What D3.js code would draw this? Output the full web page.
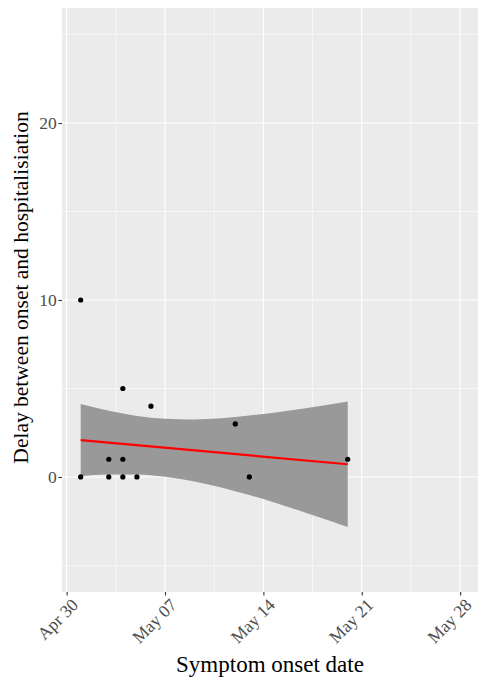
<!DOCTYPE html>
<html><head><meta charset="utf-8">
<script src="https://cdn.jsdelivr.net/npm/d3@7"></script>
<style>body{margin:0;background:#fff;} svg{display:block;}</style>
</head><body>
<script>
// Observed cases: symptom onset date and delay (days)
const onsetDates = ["2020-05-01","2020-05-01","2020-05-03","2020-05-03","2020-05-04","2020-05-04","2020-05-04","2020-05-05","2020-05-06","2020-05-12","2020-05-13","2020-05-20"];
const delays     = [10, 0, 1, 0, 5, 1, 0, 0, 4, 3, 0, 1];
// Linear fit line
const fitDates   = ["2020-05-01","2020-05-20"];
const fitValues  = [2.08, 0.72];
// Confidence band
const bandDates  = ["2020-05-01","2020-05-03","2020-05-05","2020-05-07","2020-05-09","2020-05-11","2020-05-13","2020-05-15","2020-05-17","2020-05-20"];
const bandLower  = [0.04, 0.14, 0.14, 0.01, -0.24, -0.59, -1.02, -1.50, -2.02, -2.83];
const bandUpper  = [4.12, 3.74, 3.45, 3.29, 3.25, 3.32, 3.47, 3.66, 3.89, 4.27];
// Axis ticks
const xTickDates  = ["2020-04-30","2020-05-07","2020-05-14","2020-05-21","2020-05-28"];
const xTickLabels = ["Apr 30","May 07","May 14","May 21","May 28"];
const xMinorDates = ["2020-05-03T12:00","2020-05-10T12:00","2020-05-17T12:00","2020-05-24T12:00"];
const yTicks      = [0, 10, 20];
const yMinor      = [-5, 5, 15, 25];

const W = 479, H = 680;
const panel = {left: 62, right: 478, top: 8, bottom: 592};
const parse = s => new Date(s + (s.length > 10 ? ":00Z" : "T00:00:00Z"));
const DAY = 86400000;
const x0 = parse("2020-04-30");
const x = d3.scaleUtc()
  .domain([new Date(+x0 - 0.33*DAY), new Date(+x0 + 29.27*DAY)])
  .range([panel.left, panel.right]);
const y = d3.scaleLinear().domain([-6.5, 26.5]).range([panel.bottom, panel.top]);

const svg = d3.select("body").append("svg").attr("width", W).attr("height", H);
svg.append("rect").attr("x", panel.left).attr("y", panel.top)
  .attr("width", panel.right - panel.left).attr("height", panel.bottom - panel.top)
  .attr("fill", "#EBEBEB");

const g = svg.append("g");
// minor grid
g.selectAll(".ymin").data(yMinor).join("line")
  .attr("x1", panel.left).attr("x2", panel.right)
  .attr("y1", d => y(d)).attr("y2", d => y(d))
  .attr("stroke", "#fff").attr("stroke-width", 0.55);
g.selectAll(".xmin").data(xMinorDates).join("line")
  .attr("y1", panel.top).attr("y2", panel.bottom)
  .attr("x1", d => x(parse(d))).attr("x2", d => x(parse(d)))
  .attr("stroke", "#fff").attr("stroke-width", 0.55);
// major grid
g.selectAll(".ymaj").data(yTicks).join("line")
  .attr("x1", panel.left).attr("x2", panel.right)
  .attr("y1", d => y(d)).attr("y2", d => y(d))
  .attr("stroke", "#fff").attr("stroke-width", 1.1);
g.selectAll(".xmaj").data(xTickDates).join("line")
  .attr("y1", panel.top).attr("y2", panel.bottom)
  .attr("x1", d => x(parse(d))).attr("x2", d => x(parse(d)))
  .attr("stroke", "#fff").attr("stroke-width", 1.1);

// band
const band = bandDates.map((d, i) => ({d: parse(d), lo: bandLower[i], hi: bandUpper[i]}));
svg.append("path").datum(band)
  .attr("d", d3.area().x(d => x(d.d)).y0(d => y(d.lo)).y1(d => y(d.hi)).curve(d3.curveMonotoneX))
  .attr("fill", "#999999");

// points
const pts = onsetDates.map((d, i) => ({d: parse(d), v: delays[i]}));
svg.selectAll(".pt").data(pts).join("circle")
  .attr("cx", d => x(d.d)).attr("cy", d => y(d.v)).attr("r", 2.6).attr("fill", "#000");

// fit line
const fit = fitDates.map((d, i) => ({d: parse(d), v: fitValues[i]}));
svg.append("path").datum(fit)
  .attr("d", d3.line().x(d => x(d.d)).y(d => y(d.v)))
  .attr("fill", "none").attr("stroke", "#FF0000").attr("stroke-width", 2.2);

// axes
const font = "'Liberation Serif','Times New Roman',serif";
const xAxis = svg.append("g").attr("transform", `translate(0,${panel.bottom})`)
  .call(d3.axisBottom(x).tickValues(xTickDates.map(parse)).tickSize(3.5)
    .tickFormat((d, i) => xTickLabels[i]));
xAxis.select(".domain").remove();
xAxis.selectAll(".tick line").attr("stroke", "#333").attr("stroke-width", 1.1);
xAxis.selectAll(".tick text")
  .attr("font-family", font).attr("font-size", 17.5).attr("fill", "#4D4D4D")
  .attr("text-anchor", "end").attr("x", 0).attr("y", 0).attr("dy", "0.9em")
  .attr("transform", "translate(1,3) rotate(-45)");

const yAxis = svg.append("g").attr("transform", `translate(${panel.left},0)`)
  .call(d3.axisLeft(y).tickValues(yTicks).tickSize(3.5).tickPadding(1.8));
yAxis.select(".domain").remove();
yAxis.selectAll(".tick line").attr("stroke", "#333").attr("stroke-width", 1.1);
yAxis.selectAll(".tick text")
  .attr("font-family", font).attr("font-size", 17.5).attr("fill", "#4D4D4D");

// titles
svg.append("text").attr("x", (panel.left + panel.right) / 2).attr("y", 672)
  .attr("text-anchor", "middle").attr("font-family", font).attr("font-size", 23)
  .attr("fill", "#000").text("Symptom onset date");
svg.append("text").attr("transform", `translate(28,287.5) rotate(-90)`)
  .attr("text-anchor", "middle").attr("font-family", font).attr("font-size", 21.5)
  .attr("fill", "#000").text("Delay between onset and hospitalisiation");
</script>
</body></html>
